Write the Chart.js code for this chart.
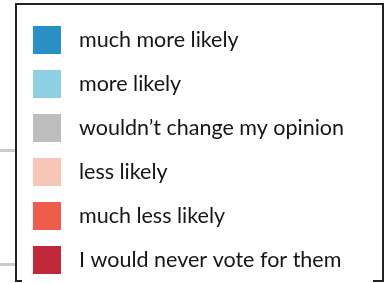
<!DOCTYPE html>
<html>
<head>
<meta charset="utf-8">
<script src="https://cdn.jsdelivr.net/npm/chart.js@4"></script>
<style>
  html, body { margin: 0; padding: 0; background: #fff; }
  #wrap { width: 387px; height: 283px; position: relative; }
</style>
</head>
<body>
<div id="wrap"><canvas id="chart"></canvas></div>
<script>
/* ─── Data ───────────────────────────────────────────────── */
const categories = ['all respondents'];
const seriesLabels = [
  'much more likely',
  'more likely',
  'wouldn\u2019t change my opinion',
  'less likely',
  'much less likely',
  'I would never vote for them'
];
const seriesColors = ['#2b8fc6', '#8ecfe4', '#bdbdbd', '#f8c6b6', '#ee5c4c', '#c0283a'];
// bars sit behind the legend in the crop, values are estimates
const seriesValues = [[12], [18], [35], [14], [11], [10]];

/* ─── Legend drawn over the plot ─────────────────────────── */
const boxLegend = {
  id: 'boxLegend',
  afterDraw(chart) {
    const ctx = chart.ctx;
    const L = 16, T = 4, R = 383, B = 281;
    ctx.save();
    ctx.fillStyle = '#fff';
    ctx.fillRect(L, T, R - L, B - T);
    ctx.strokeStyle = '#222';
    ctx.lineWidth = 2;
    ctx.beginPath();
    ctx.moveTo(L + 6, B); ctx.lineTo(L, B); ctx.lineTo(L, T);
    ctx.lineTo(R, T); ctx.lineTo(R, B); ctx.lineTo(R - 10, B);
    ctx.stroke();
    ctx.font = '21.5px Lato';
    ctx.textBaseline = 'alphabetic';
    chart.data.datasets.forEach((ds, i) => {
      const cy = 40 + i * 44;
      ctx.fillStyle = ds.backgroundColor;
      ctx.fillRect(33, cy - 14, 28, 28);
      ctx.fillStyle = '#151515';
      ctx.fillText(ds.label, 79, cy + 7);
    });
    ctx.restore();
  }
};

/* ─── Chart ──────────────────────────────────────────────── */
new Chart(document.getElementById('chart'), {
  type: 'bar',
  data: {
    labels: categories,
    datasets: seriesLabels.map((label, i) => ({
      label,
      data: seriesValues[i],
      backgroundColor: seriesColors[i],
      borderWidth: 0
    }))
  },
  options: {
    indexAxis: 'y',
    responsive: true,
    maintainAspectRatio: false,
    animation: false,
    layout: { padding: { top: 150, bottom: 19, left: 0, right: 5 } },
    plugins: { legend: { display: false }, tooltip: { enabled: false } },
    scales: {
      x: { stacked: true, display: false, min: -10, max: 115 },
      y: {
        stacked: true,
        ticks: { display: false },
        border: { display: false },
        grid: { color: '#cccccc', lineWidth: 3, drawTicks: false }
      }
    }
  },
  plugins: [boxLegend]
});
</script>
</body>
</html>
